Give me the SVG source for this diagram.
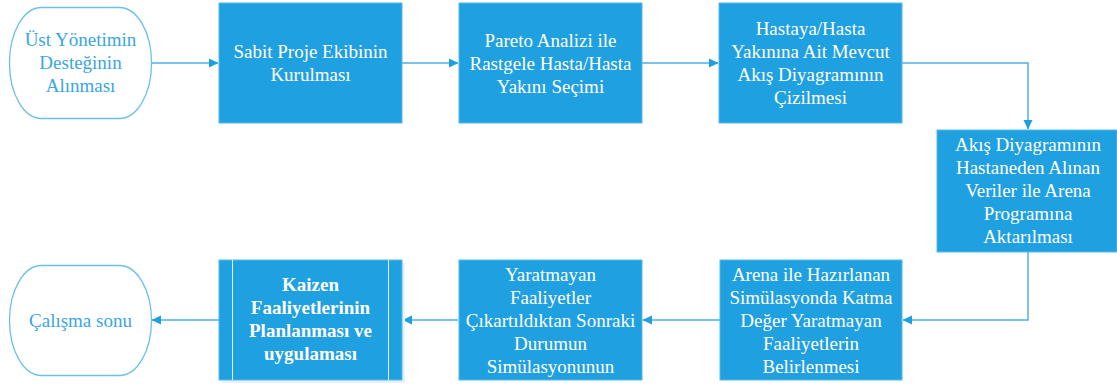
<svg xmlns="http://www.w3.org/2000/svg" width="1117" height="385" viewBox="0 0 1117 385">
<style>
.box{fill:#1fa0e0;stroke:#5ab8ea;stroke-width:1}
.term{fill:#ffffff;stroke:#6cc0ec;stroke-width:1.3}
text{font-family:'Liberation Serif','DejaVu Serif','Times New Roman',serif;font-size:19px;fill:#ffffff;text-anchor:middle}
.tb{font-weight:bold}
.tt{fill:#3aa6e2}
.conn{fill:none;stroke:#4db0e8;stroke-width:1.5}
</style>
<defs>
<marker id="arr" markerWidth="10" markerHeight="10" refX="9" refY="5" orient="auto" markerUnits="userSpaceOnUse">
<path d="M0,0.5 L9.5,5 L0,9.5 Z" fill="#1e9fe0"/>
</marker>
</defs>
<rect width="1117" height="385" fill="#ffffff"/>
<g id="connectors">
<path class="conn" d="M152,63 H218" marker-end="url(#arr)"/>
<path class="conn" d="M402,63 H458" marker-end="url(#arr)"/>
<path class="conn" d="M642,63 H718" marker-end="url(#arr)"/>
<path class="conn" d="M902,63 H1028 V129" marker-end="url(#arr)"/>
<path class="conn" d="M1028,252 V320 H903" marker-end="url(#arr)"/>
<path class="conn" d="M720,320 H643" marker-end="url(#arr)"/>
<path class="conn" d="M458,320 H403" marker-end="url(#arr)"/>
<path class="conn" d="M219,320 H152" marker-end="url(#arr)"/>
</g>
<g id="n1">
<rect class="term" x="9.5" y="7.5" width="142" height="111" rx="32" ry="55"/>
<text class="tt" x="80.5" y="46" font-family="Liberation Serif, serif">Üst Yönetimin</text>
<text class="tt" x="80.5" y="69">Desteğinin</text>
<text class="tt" x="80.5" y="92">Alınması</text>
</g>
<g id="n2">
<rect class="box" x="219" y="3" width="183" height="120"/>
<text x="310.5" y="58">Sabit Proje Ekibinin</text>
<text x="310.5" y="81">Kurulması</text>
</g>
<g id="n3">
<rect class="box" x="459" y="3" width="183" height="120"/>
<text x="550.5" y="46.5">Pareto Analizi ile</text>
<text x="550.5" y="69.5">Rastgele Hasta/Hasta</text>
<text x="550.5" y="92.5">Yakını Seçimi</text>
</g>
<g id="n4">
<rect class="box" x="719" y="3" width="183" height="120"/>
<text x="810.5" y="35">Hastaya/Hasta</text>
<text x="810.5" y="58">Yakınına Ait Mevcut</text>
<text x="810.5" y="81">Akış Diyagramının</text>
<text x="810.5" y="104">Çizilmesi</text>
</g>
<g id="n5">
<rect class="box" x="937" y="130" width="180" height="122"/>
<text x="1028" y="151">Akış Diyagramının</text>
<text x="1028" y="174">Hastaneden Alınan</text>
<text x="1028" y="197">Veriler ile Arena</text>
<text x="1028" y="220">Programına</text>
<text x="1028" y="243">Aktarılması</text>
</g>
<g id="n6">
<rect class="box" x="720" y="260" width="182" height="120"/>
<text x="811" y="280.5">Arena ile Hazırlanan</text>
<text x="811" y="303.5">Simülasyonda Katma</text>
<text x="811" y="326.5">Değer Yaratmayan</text>
<text x="811" y="349.5">Faaliyetlerin</text>
<text x="811" y="372.5">Belirlenmesi</text>
</g>
<g id="n7">
<rect class="box" x="459" y="260" width="183" height="120"/>
<text x="550.5" y="280.5">Yaratmayan</text>
<text x="550.5" y="303.5">Faaliyetler</text>
<text x="550.5" y="326.5">Çıkartıldıktan Sonraki</text>
<text x="550.5" y="349.5">Durumun</text>
<text x="550.5" y="372.5">Simülasyonunun</text>
</g>
<g id="n8">
<rect x="222" y="263" width="183" height="120" fill="#e6f3fb"/>
<rect class="box" x="219" y="260" width="183" height="120"/>
<line x1="232.5" y1="260" x2="232.5" y2="380" stroke="#e8f5fc" stroke-width="1"/>
<line x1="388.5" y1="260" x2="388.5" y2="380" stroke="#e8f5fc" stroke-width="1"/>
<text class="tb" x="310.5" y="291">Kaizen</text>
<text class="tb" x="310.5" y="314">Faaliyetlerinin</text>
<text class="tb" x="310.5" y="337">Planlanması ve</text>
<text class="tb" x="310.5" y="360">uygulaması</text>
</g>
<g id="n9">
<rect class="term" x="9.5" y="265.5" width="142" height="110" rx="32" ry="55"/>
<text class="tt" x="80.5" y="327">Çalışma sonu</text>
</g>
</svg>
